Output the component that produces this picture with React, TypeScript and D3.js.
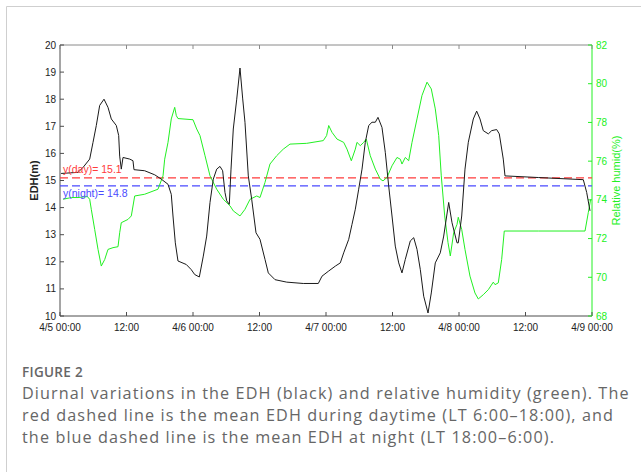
import * as d3 from "d3";

// hours since 4/5 00:00
const edhHours = [0.2, 3.25, 4.15, 5.36, 5.95, 6.55, 7.16, 7.94, 8.66, 9.26, 10.16, 10.59, 10.77, 11.06, 11.37, 12.58, 13.17, 13.35, 15.28, 17.09, 18.28, 19.49, 20.08, 20.39, 20.81, 21.29, 22.79, 23.69, 24.31, 25.14, 25.86, 26.47, 27.07, 27.66, 28.28, 28.87, 29.35, 29.77, 30.08, 30.55, 30.86, 31.27, 31.89, 32.48, 32.97, 33.38, 33.98, 34.59, 35.37, 36.09, 36.99, 37.59, 38.8, 40.91, 43.9, 46.61, 47.28, 48.49, 49.68, 50.58, 51.19, 52.1, 52.69, 53.29, 53.9, 54.5, 55.09, 55.71, 56.3, 56.9, 57.38, 58.1, 58.7, 59.31, 59.91, 60.5, 61.12, 61.71, 62.31, 63.21, 63.83, 64.42, 65.02, 65.63, 66.41, 67.0, 67.72, 68.62, 69.24, 70.14, 70.74, 71.64, 71.87, 72.49, 73.08, 73.68, 74.58, 75.19, 75.79, 76.38, 77.29, 77.9, 78.8, 79.27, 79.99, 80.3, 86.31, 94.43, 95.04, 95.64];
const edhValues = [15.26, 15.3, 15.48, 15.79, 16.4, 17.03, 17.77, 18.0, 17.7, 17.27, 17.03, 16.66, 15.9, 15.42, 15.85, 15.79, 15.73, 15.4, 15.36, 15.21, 15.05, 14.86, 14.49, 13.69, 12.7, 12.03, 11.9, 11.71, 11.53, 11.44, 12.21, 12.95, 14.19, 15.05, 15.42, 15.52, 15.36, 14.56, 14.25, 14.12, 15.42, 16.9, 18.0, 19.15, 18.01, 17.15, 15.17, 14.31, 13.07, 12.83, 12.09, 11.59, 11.34, 11.25, 11.2, 11.2, 11.47, 11.66, 11.84, 11.96, 12.33, 12.83, 13.38, 13.94, 14.68, 15.42, 16.41, 17.03, 17.15, 17.15, 17.33, 16.96, 16.04, 14.8, 13.69, 12.58, 11.96, 11.59, 12.09, 12.77, 12.89, 12.46, 11.71, 10.73, 10.11, 10.85, 11.96, 12.33, 12.95, 14.19, 13.44, 12.7, 12.7, 13.69, 15.42, 16.41, 17.27, 17.56, 17.27, 16.84, 16.72, 16.84, 16.88, 16.72, 15.79, 15.17, 15.11, 15.03, 14.56, 13.88];

const rhHours = [0.54, 2.04, 3.25, 4.93, 5.36, 5.65, 6.26, 6.86, 7.45, 8.07, 8.66, 9.56, 10.47, 10.77, 11.06, 12.27, 12.87, 13.48, 15.28, 17.68, 18.59, 18.89, 19.49, 20.08, 20.7, 20.99, 21.29, 24.0, 24.67, 25.26, 26.17, 27.07, 28.28, 29.47, 30.68, 31.27, 32.48, 33.38, 34.29, 35.5, 36.09, 36.99, 37.89, 39.1, 40.29, 41.5, 44.52, 47.51, 48.11, 48.49, 49.08, 49.98, 51.19, 51.79, 52.57, 53.29, 53.59, 54.19, 54.8, 55.27, 55.99, 56.9, 57.8, 58.29, 59.01, 59.91, 60.81, 61.41, 61.71, 62.31, 62.92, 63.52, 64.42, 65.32, 66.23, 67.0, 67.72, 68.34, 68.8, 69.42, 70.02, 70.43, 71.04, 71.64, 71.87, 72.49, 73.08, 73.98, 74.88, 75.48, 76.38, 77.29, 78.19, 78.5, 79.09, 79.7, 80.17, 86.31, 94.74, 95.33, 95.76];
const rhValues = [74.03, 74.12, 74.12, 74.17, 74.03, 73.51, 72.47, 71.44, 70.58, 70.92, 71.44, 71.53, 71.58, 72.3, 72.82, 72.99, 73.17, 74.2, 74.29, 74.55, 75.24, 76.1, 76.97, 78.18, 78.78, 78.35, 78.2, 78.14, 77.66, 77.32, 76.28, 75.24, 74.55, 74.03, 73.69, 73.43, 73.17, 73.51, 74.03, 74.2, 74.12, 74.9, 75.85, 76.28, 76.62, 76.88, 76.92, 77.06, 77.32, 77.84, 77.49, 77.14, 76.97, 76.62, 76.02, 76.62, 76.97, 76.8, 76.97, 77.14, 76.28, 75.59, 75.07, 74.98, 75.16, 75.76, 76.19, 76.1, 75.85, 76.19, 76.02, 76.97, 78.18, 79.39, 80.08, 79.73, 78.7, 77.32, 75.24, 73.17, 71.79, 71.1, 72.3, 72.73, 73.1, 72.47, 71.44, 70.06, 69.19, 68.88, 69.1, 69.36, 69.75, 69.62, 69.71, 70.92, 72.39, 72.39, 72.39, 73.34, 74.03];

const dayMean = 15.1;
const nightMean = 14.8;

const xTickHours = [0, 12, 24, 36, 48, 60, 72, 84, 96];
const xTickLabels = ["4/5 00:00", "12:00", "4/6 00:00", "12:00", "4/7 00:00", "12:00", "4/8 00:00", "12:00", "4/9 00:00"];
const edhTicks = [10, 11, 12, 13, 14, 15, 16, 17, 18, 19, 20];
const rhTicks = [68, 70, 72, 74, 76, 78, 80, 82];

const captionLines = [
  "Diurnal variations in the EDH (black) and relative humidity (green). The",
  "red dashed line is the mean EDH during daytime (LT 6:00\u201318:00), and",
  "the blue dashed line is the mean EDH at night (LT 18:00\u20136:00).",
];

const W = 641;
const H = 472;
const m = { left: 60, right: 592, top: 45, bottom: 316 };
const GREEN = "#22f022";
const AXIS = "#4d4d4d";
const FONT = "'Liberation Sans', Arial, Helvetica, sans-serif";

export default function App() {
  const x = d3.scaleLinear().domain([0, 96]).range([m.left, m.right]);
  const yL = d3.scaleLinear().domain([10, 20]).range([m.bottom, m.top]);
  const yR = d3.scaleLinear().domain([68, 82]).range([m.bottom, m.top]);

  const edhLine = d3
    .line<number>()
    .x((_, i) => x(edhHours[i]))
    .y((d) => yL(d));
  const rhLine = d3
    .line<number>()
    .x((_, i) => x(rhHours[i]))
    .y((d) => yR(d));

  return (
    <svg width={W} height={H} style={{ position: "absolute", left: 0, top: 0, background: "#fff" }}>
      {/* card frame */}
      <line x1={6.5} y1={6.5} x2={6.5} y2={H} stroke="#cfcfcf" />
      <line x1={6.5} y1={6.5} x2={W} y2={6.5} stroke="#cfcfcf" />

      {/* plot box */}
      <line x1={m.left} y1={m.top} x2={m.right} y2={m.top} stroke="#8a8a8a" />
      <line x1={m.left} y1={m.top} x2={m.left} y2={m.bottom} stroke={AXIS} />
      <line x1={m.left} y1={m.bottom} x2={m.right} y2={m.bottom} stroke={AXIS} />
      <line x1={m.right} y1={m.top} x2={m.right} y2={m.bottom} stroke={GREEN} />

      {/* x ticks */}
      {xTickHours.map((h, i) => (
        <g key={"x" + i}>
          <line x1={x(h)} x2={x(h)} y1={m.bottom} y2={m.bottom - 4} stroke={AXIS} />
          <line x1={x(h)} x2={x(h)} y1={m.top} y2={m.top + 4} stroke="#8a8a8a" />
          <text x={x(h)} y={m.bottom + 15} textAnchor="middle" fontFamily={FONT} fontSize={10} fill="#222">
            {xTickLabels[i]}
          </text>
        </g>
      ))}

      {/* left ticks */}
      {edhTicks.map((t) => (
        <g key={"l" + t}>
          <line x1={m.left} x2={m.left + 4} y1={yL(t)} y2={yL(t)} stroke={AXIS} />
          <text x={m.left - 4} y={yL(t) + 3.5} textAnchor="end" fontFamily={FONT} fontSize={10} fill="#222">
            {t}
          </text>
        </g>
      ))}

      {/* right ticks */}
      {rhTicks.map((t) => (
        <g key={"r" + t}>
          <line x1={m.right} x2={m.right - 4} y1={yR(t)} y2={yR(t)} stroke={GREEN} />
          <text x={m.right + 4} y={yR(t) + 3.5} textAnchor="start" fontFamily={FONT} fontSize={10} fill={GREEN}>
            {t}
          </text>
        </g>
      ))}

      <text
        transform={`translate(38,${(m.top + m.bottom) / 2}) rotate(-90)`}
        textAnchor="middle"
        fontFamily={FONT}
        fontSize={11}
        fontWeight="bold"
        fill="#222"
      >
        EDH(m)
      </text>
      <text
        transform={`translate(620,${(m.top + m.bottom) / 2}) rotate(-90)`}
        textAnchor="middle"
        fontFamily={FONT}
        fontSize={11}
        fill={GREEN}
      >
        Relative humid(%)
      </text>

      {/* mean lines */}
      <line x1={m.left} x2={m.right} y1={yL(dayMean)} y2={yL(dayMean)} stroke="#ff3b3b" strokeWidth={1.2} strokeDasharray="8,4" />
      <line x1={m.left} x2={m.right} y1={yL(nightMean)} y2={yL(nightMean)} stroke="#4a4aff" strokeWidth={1.2} strokeDasharray="8,4" />

      <path d={rhLine(rhValues) ?? ""} fill="none" stroke={GREEN} strokeWidth={1} />
      <path d={edhLine(edhValues) ?? ""} fill="none" stroke="#1a1a1a" strokeWidth={1} />

      <text x={63} y={yL(dayMean) - 5} fontFamily={FONT} fontSize={10.5} fill="#ff3b3b">
        y(day)= {dayMean}
      </text>
      <text x={63} y={yL(nightMean) + 11} fontFamily={FONT} fontSize={10.5} fill="#4a4aff">
        y(night)= {nightMean}
      </text>

      {/* caption */}
      <text x={22} y={377} fontFamily="'Open Sans', sans-serif" fontSize={13.5} fontWeight={600} letterSpacing={0.3} fill="#666">
        FIGURE 2
      </text>
      {captionLines.map((s, i) => (
        <text
          key={i}
          x={22}
          y={399 + i * 22}
          fontFamily="'Open Sans', sans-serif"
          fontSize={16.2}
          letterSpacing={1.1}
          fill="#666"
        >
          {s}
        </text>
      ))}
    </svg>
  );
}
